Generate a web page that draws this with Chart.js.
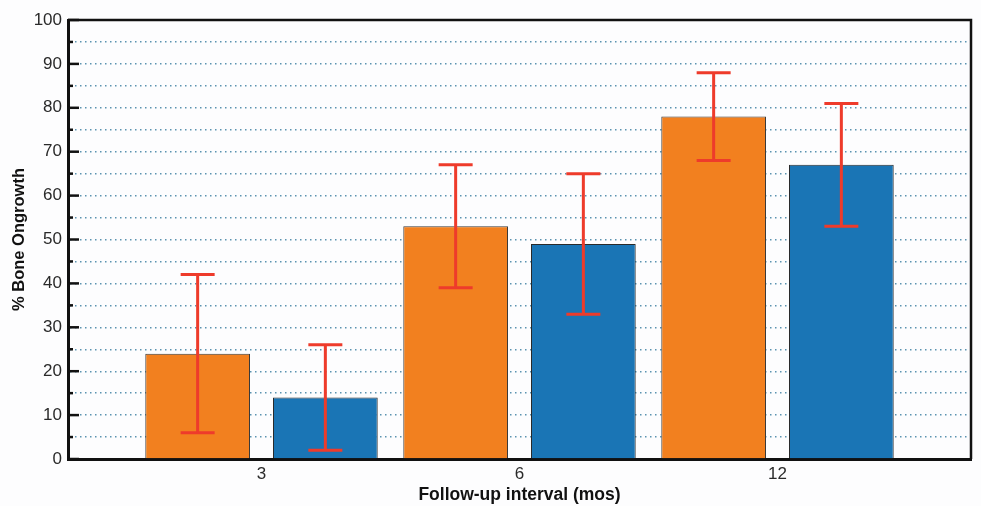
<!DOCTYPE html>
<html>
<head>
<meta charset="utf-8">
<script src="https://cdn.jsdelivr.net/npm/chart.js@4/dist/chart.umd.min.js"></script>
<style>
  html, body { margin: 0; padding: 0; background: #fdfdfe; }
  #wrap { width: 981px; height: 506px; }
</style>
</head>
<body>
<div id="wrap"><canvas id="grafico"></canvas></div>
<script>
// dados
const intervalos = ['3', '6', '12']
const posicoes = [1, 2, 3]

const laranjaMedia = [24, 53, 78]
const laranjaSup = [42, 67, 88]
const laranjaInf = [6, 39, 68]

const azulMedia = [14, 49, 67]
const azulSup = [26, 65, 81]
const azulInf = [2, 33, 53]

const ticksY = [0, 5, 10, 15, 20, 25, 30, 35, 40, 45, 50, 55, 60, 65, 70, 75, 80, 85, 90, 95, 100]

const erros = [
    { sup: laranjaSup, inf: laranjaInf },
    { sup: azulSup, inf: azulInf }
]

// barras de erro em vermelho
const pluginErros = {
    id: 'erros',
    afterDatasetsDraw(chart) {
        const ctx = chart.ctx
        const y = chart.scales.y
        ctx.save()
        ctx.strokeStyle = '#ee3b2b'
        ctx.lineWidth = 3
        erros.forEach((e, d) => {
            chart.getDatasetMeta(d).data.forEach((bar, i) => {
                const top = y.getPixelForValue(e.sup[i])
                const bot = y.getPixelForValue(e.inf[i])
                ctx.beginPath()
                ctx.moveTo(bar.x, top)
                ctx.lineTo(bar.x, bot)
                ctx.moveTo(bar.x - 17, top)
                ctx.lineTo(bar.x + 17, top)
                ctx.moveTo(bar.x - 17, bot)
                ctx.lineTo(bar.x + 17, bot)
                ctx.stroke()
            })
        })
        ctx.restore()
    }
}

// moldura de cima/direita e ticks para dentro
const pluginMoldura = {
    id: 'moldura',
    afterDraw(chart) {
        const ctx = chart.ctx
        const a = chart.chartArea
        const y = chart.scales.y
        ctx.save()
        ctx.strokeStyle = '#111'
        ctx.lineWidth = 2.5
        ctx.beginPath()
        ctx.moveTo(a.left, a.top)
        ctx.lineTo(a.right, a.top)
        ctx.lineTo(a.right, a.bottom)
        ctx.stroke()

        ticksY.forEach(v => {
            const py = y.getPixelForValue(v)
            const len = v % 10 === 0 ? 11 : 5
            ctx.beginPath()
            ctx.moveTo(a.left, py)
            ctx.lineTo(a.left + len, py)
            ctx.stroke()
        })
        ctx.restore()
    }
}

new Chart(document.getElementById('grafico'), {
    type: 'bar',
    data: {
        datasets: [
            {
                label: 'Grupo 1',
                data: posicoes.map((p, i) => ({ x: p, y: laranjaMedia[i] })),
                backgroundColor: '#f2801f',
                borderColor: '#3a3a3a',
                borderWidth: 1,
                categoryPercentage: 0.99,
                barPercentage: 0.82
            },
            {
                label: 'Grupo 2',
                data: posicoes.map((p, i) => ({ x: p, y: azulMedia[i] })),
                backgroundColor: '#1a75b5',
                borderColor: '#2a2a2a',
                borderWidth: 1,
                categoryPercentage: 0.99,
                barPercentage: 0.82
            }
        ]
    },
    options: {
        responsive: true,
        maintainAspectRatio: false,
        animation: false,
        layout: { padding: { top: 20, right: 10, left: 10, bottom: 0 } },
        plugins: {
            legend: { display: false },
            tooltip: { enabled: false }
        },
        scales: {
            x: {
                type: 'linear',
                offset: false,
                min: 0.25,
                max: 3.75,
                afterBuildTicks: (scale) => {
                    scale.ticks = posicoes.map(p => ({ value: p }))
                },
                afterFit: (scale) => { scale.height = 47 },
                ticks: {
                    callback: (v) => intervalos[posicoes.indexOf(v)],
                    color: '#2a2a2a',
                    font: { family: 'Liberation Sans', size: 17 },
                    padding: 5,
                    maxRotation: 0,
                    autoSkip: false
                },
                grid: { display: false, drawTicks: false, offset: false },
                border: { display: true, width: 3, color: '#111' },
                title: {
                    display: true,
                    text: 'Follow-up interval (mos)',
                    color: '#111',
                    font: { family: 'Liberation Sans', size: 17.5, weight: 'bold' },
                    padding: { top: 0, bottom: 0 }
                }
            },
            y: {
                min: 0,
                max: 100,
                afterBuildTicks: (scale) => {
                    scale.ticks = ticksY.map(v => ({ value: v }))
                },
                afterFit: (scale) => { scale.width = 58 },
                ticks: {
                    callback: (v) => (v % 10 === 0 ? v : ''),
                    color: '#2a2a2a',
                    font: { family: 'Liberation Sans', size: 17 },
                    padding: 6,
                    autoSkip: false
                },
                grid: {
                    drawTicks: false,
                    color: '#5b93b0',
                    lineWidth: 1.4
                },
                border: { display: true, width: 3, color: '#111', dash: [1.5, 3.5] },
                title: {
                    display: true,
                    text: '% Bone Ongrowth',
                    color: '#111',
                    font: { family: 'Liberation Sans', size: 16.5, weight: 'bold' },
                    padding: { top: 0, bottom: 2 }
                }
            }
        }
    },
    plugins: [pluginErros, pluginMoldura]
})
</script>
</body>
</html>
